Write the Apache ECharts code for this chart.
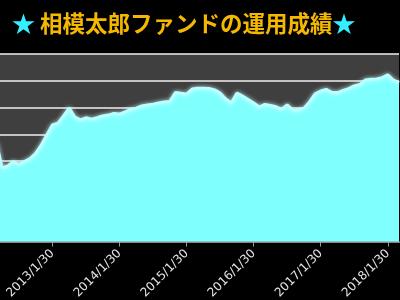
<!DOCTYPE html>
<html>
<head>
<meta charset="utf-8">
<script src="https://cdn.jsdelivr.net/npm/echarts@6/dist/echarts.min.js"></script>
<style>html,body{margin:0;padding:0;background:#000;}#c{width:400px;height:300px;}</style>
</head>
<body>
<div id="c"></div>
<script>
var titleText = '相模太郎ファンドの運用成績';
var startYear = 2012, startMonth = 3, monthCount = 73;
var categories = [];
for (var k = 0; k < monthCount; k++) {
  var m = startMonth - 1 + k;
  categories.push((startYear + Math.floor(m / 12)) + '/' + (m % 12 + 1) + '/30');
}
var fundValues = [
  36.8, 27.5, 28.2, 29.8, 28.8, 29.9, 31.0, 32.9, 36.0, 39.8,
  43.5, 44.2, 46.9, 49.8, 46.5, 45.4, 46.2, 45.7, 46.2, 46.9,
  47.2, 47.8, 47.6, 48.4, 49.3, 49.8, 50.6, 51.0, 51.3, 51.7,
  52.1, 52.3, 55.6, 55.4, 55.0, 56.9, 57.2, 57.2, 57.1, 56.6,
  55.4, 53.2, 51.7, 55.4, 54.3, 53.0, 51.7, 50.2, 51.2, 50.8,
  50.3, 49.3, 51.0, 49.1, 49.1, 49.8, 52.1, 55.1, 56.2, 56.8,
  55.6, 55.6, 56.4, 57.1, 58.1, 58.6, 60.3, 60.6, 60.7, 61.2,
  62.2, 60.3, 59.3
];
var yMin = 0, yMax = 70, yInterval = 10;

function isJan(idx, val) { return categories[idx].split('/')[1] === '1'; }

var chart = echarts.init(document.getElementById('c'));
chart.setOption({
  backgroundColor: '#000000',
  animation: false,
  title: {
    left: 7, top: 7,
    text: '{s|★} {t|' + titleText + '}{s|★}',
    textStyle: {
      rich: {
        s: { color: '#33eeff', fontSize: 23, fontFamily: 'Noto Sans CJK JP', fontWeight: 'bold' },
        t: { color: '#f5b800', fontSize: 22.5, fontFamily: 'Noto Sans CJK JP', fontWeight: 'bold' }
      }
    }
  },
  grid: {
    left: -3.5, right: 1, top: 54, bottom: 58.4,
    show: true, backgroundColor: '#3f3f3f', borderWidth: 0,
    containLabel: false, outerBoundsMode: 'none'
  },
  xAxis: {
    type: 'category',
    data: categories,
    boundaryGap: false,
    axisLine: { show: true, lineStyle: { color: '#8a8a8a', width: 2 } },
    axisTick: { show: true, interval: isJan, length: 5, lineStyle: { color: '#9a9a9a' } },
    axisLabel: {
      interval: isJan, rotate: 45, color: '#e6e6e6', fontSize: 12,
      fontFamily: 'DejaVu Sans', margin: 10
    },
    splitLine: { show: false }
  },
  yAxis: {
    type: 'value', min: yMin, max: yMax, interval: yInterval,
    axisLabel: { show: false }, axisLine: { show: false }, axisTick: { show: false },
    splitLine: { show: true, lineStyle: { color: '#f0f0f0', width: 1.5 } }
  },
  series: [{
    type: 'line',
    data: fundValues,
    showSymbol: false,
    symbol: 'none',
    lineStyle: { color: '#b8ffff', width: 3, shadowColor: 'rgba(210,255,255,0.9)', shadowBlur: 4 },
    areaStyle: { color: '#80ffff', opacity: 1 }
  }]
});
</script>
</body>
</html>
